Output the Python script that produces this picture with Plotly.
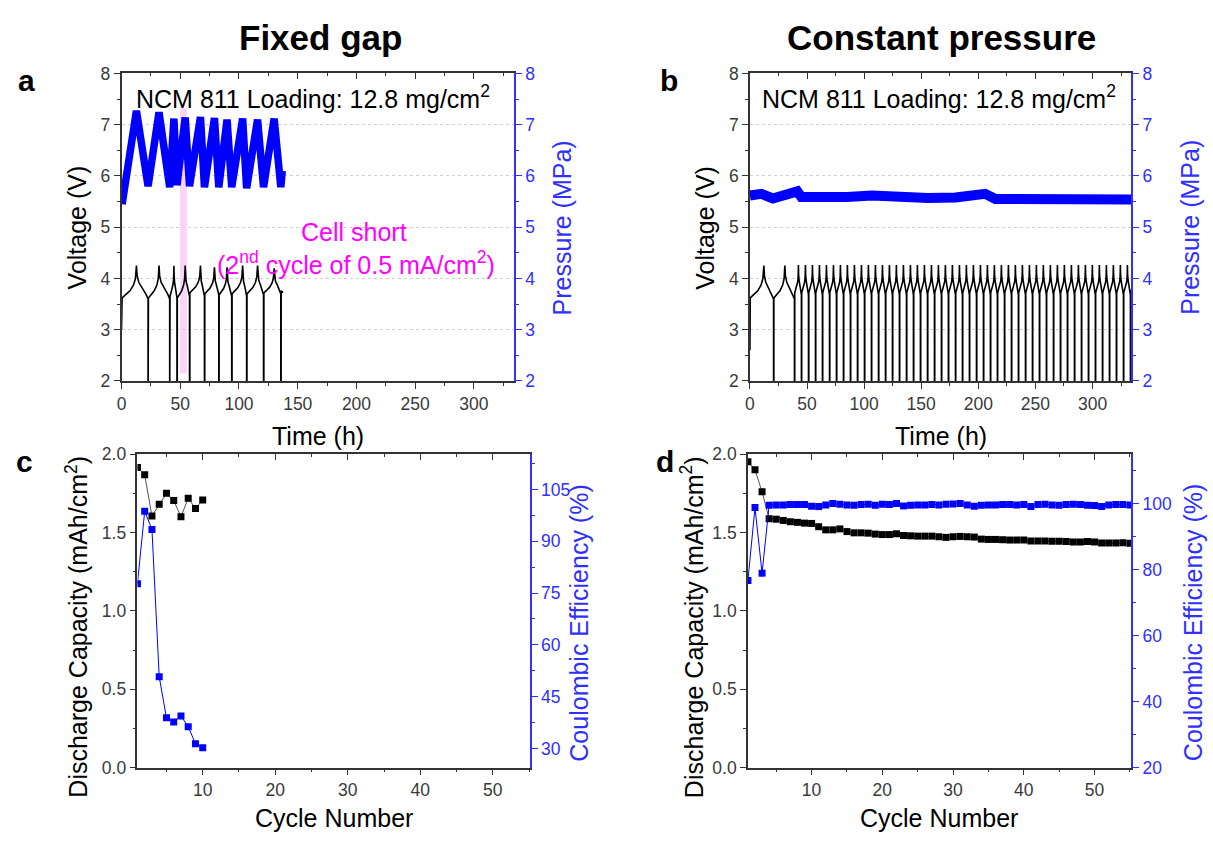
import plotly.graph_objects as go

W, H = 1213, 841
FONT = "Liberation Sans, Arial, sans-serif"
BLACK = "#000000"
AXC = "#333333"
TICKC = "#3a3a3a"
BLUE = "#0000ff"
BLUEAX = "#3030ff"
MAGENTA = "#ff00ff"

# ---------------- Panel a (fixed gap) : voltage cycles ----------------
a_cycle_start = [0.5, 22.9, 41.3, 47.5, 58.2, 70.9, 83.1, 94.1, 106.8, 121.2]
a_cycle_peak = [12.7, 31.9, 44.6, 54.2, 67.2, 79.1, 89.8, 103.1, 115.8, 129.9]
a_cycle_end = [22.6, 41.0, 47.2, 57.9, 70.6, 82.8, 93.8, 106.5, 120.9, 135.6]
a_cycle_vstart = [3.62, 3.62, 3.66, 3.62, 3.72, 3.70, 3.68, 3.70, 3.70, 3.72]
a_cycle_vpeak = [4.25, 4.25, 4.25, 4.25, 4.25, 4.22, 4.22, 4.25, 4.25, 4.20]
a_cycle_vend = [3.60, 3.60, 3.62, 3.65, 3.65, 3.68, 3.65, 3.66, 3.68, 3.70]
a_initial_t = [0.0]
a_initial_v = [3.0]
a_tail_t = [135.9, 137.5]
a_tail_v = [3.76, 3.72]

# pressure (fixed gap)
a_p_t = [0.5, 12.7, 22.6, 31.9, 41.0, 44.6, 47.2, 54.2, 57.9, 67.2, 70.6, 79.1,
         82.8, 89.8, 93.8, 103.1, 106.5, 115.8, 120.9, 129.9, 135.6, 136.8]
a_p_v = [5.45, 7.27, 5.80, 7.24, 5.78, 7.12, 5.82, 7.14, 5.80, 7.15, 5.78, 7.13,
         5.78, 7.10, 5.78, 7.12, 5.76, 7.10, 5.78, 7.12, 5.78, 6.10]

# ---------------- Panel b (constant pressure) ----------------
b_slow_start = [0.3, 21.0]
b_slow_peak = [12.2, 30.6]
b_slow_end = [20.7, 39.0]
b_fast_spikes = [39.0, 45.1, 51.3, 57.4, 63.5, 69.7, 75.8, 81.9, 88.0, 94.2, 100.3,
                 106.4, 112.6, 118.7, 124.8, 130.9, 137.1, 143.2, 149.3, 155.5, 161.6,
                 167.7, 173.8, 180.0, 186.1, 192.2, 198.4, 204.5, 210.6, 216.7, 222.9,
                 229.0, 235.1, 241.3, 247.4, 253.5, 259.6, 265.8, 271.9, 278.0, 284.2,
                 290.3, 296.4, 302.5, 308.7, 314.8, 320.9, 327.1, 333.2]
b_fast_peak_fraction = 0.55
b_fast_v = [3.72, 4.26, 3.68]
b_initial_t = [0.0]
b_initial_v = [2.6]

b_p_t = [0, 10, 20, 29, 36, 41.5, 45, 63, 85, 107, 130, 156, 180, 200, 206, 215, 250, 290, 334]
b_p_v = [5.62, 5.65, 5.56, 5.62, 5.62, 5.70, 5.59, 5.58, 5.59, 5.62, 5.58, 5.57, 5.58,
         5.60, 5.65, 5.55, 5.55, 5.56, 5.54]

# shape of a charge / discharge step (fraction of step time -> fraction of voltage change)
charge_frac_t = [0, 0.25, 0.55, 0.8, 0.93, 1.0]
charge_frac_v = [0, 0.10, 0.22, 0.40, 0.60, 1.0]
discharge_frac_t = [0, 0.06, 0.2, 0.5, 0.85, 1.0]
discharge_frac_v = [1.0, 0.70, 0.50, 0.33, 0.12, 0.0]
SPIKE_V = 1.5

# ---------------- Panel c (fixed gap) cycling ----------------
c_cycle = [1, 2, 3, 4, 5, 6, 7, 8, 9, 10]
c_capacity = [1.915, 1.868, 1.605, 1.680, 1.750, 1.705, 1.600, 1.719, 1.653, 1.708]
c_ce = [77.7, 98.7, 93.4, 50.8, 38.9, 37.7, 39.4, 36.3, 31.4, 30.2]

# ---------------- Panel d (constant pressure) cycling ----------------
d_cycle = list(range(1, 56))
d_capacity = [1.952, 1.900, 1.760, 1.588, 1.585, 1.577, 1.569, 1.565, 1.560, 1.558,
              1.537, 1.517, 1.517, 1.523, 1.506, 1.498, 1.498, 1.496, 1.490, 1.487,
              1.487, 1.492, 1.481, 1.479, 1.477, 1.477, 1.477, 1.473, 1.469, 1.473,
              1.475, 1.473, 1.471, 1.458, 1.456, 1.456, 1.454, 1.452, 1.452, 1.452,
              1.446, 1.446, 1.446, 1.444, 1.444, 1.442, 1.440, 1.440, 1.442, 1.440,
              1.433, 1.433, 1.433, 1.435, 1.431]
d_ce = [76.8, 98.9, 79.0, 99.6, 99.7, 99.7, 99.8, 99.8, 99.8, 99.3,
        99.2, 99.7, 100.1, 99.9, 99.7, 99.6, 99.8, 99.9, 99.6, 99.9,
        99.8, 100.1, 99.4, 99.6, 99.7, 99.7, 99.8, 99.7, 99.9, 100.0,
        100.1, 99.7, 99.3, 99.6, 99.7, 99.7, 99.8, 99.8, 99.7, 99.8,
        99.2, 99.8, 99.9, 99.7, 99.6, 99.8, 99.9, 99.8, 99.6, 99.5,
        99.2, 99.7, 99.8, 99.8, 99.7]


def step(t0, t1, v0, v1, frac_t, frac_v):
    ts, vs = [], []
    for ft, fv in zip(frac_t, frac_v):
        ts.append(t0 + ft * (t1 - t0))
        vs.append(v0 + fv * (v1 - v0))
    return ts, vs


def cycle(t0, tp, t1, v0, vp, v1):
    t_c, v_c = step(t0, tp, v0, vp, charge_frac_t, charge_frac_v)
    t_d, v_d = step(tp, t1, v1, vp, discharge_frac_t, discharge_frac_v)
    t = t_c + t_d[1:] + [t1, t1 + 0.25]
    v = v_c + v_d[1:] + [SPIKE_V, SPIKE_V]
    return t, v


a_t, a_v = list(a_initial_t), list(a_initial_v)
for i in range(len(a_cycle_start)):
    t, v = cycle(a_cycle_start[i], a_cycle_peak[i], a_cycle_end[i],
                 a_cycle_vstart[i], a_cycle_vpeak[i], a_cycle_vend[i])
    a_t += t
    a_v += v
a_t += a_tail_t
a_v += a_tail_v

b_t, b_v = list(b_initial_t), list(b_initial_v)
for i in range(len(b_slow_start)):
    t, v = cycle(b_slow_start[i], b_slow_peak[i], b_slow_end[i], 3.62, 4.25, 3.60)
    b_t += t
    b_v += v
for i in range(len(b_fast_spikes) - 1):
    s0 = b_fast_spikes[i] + 0.25
    s1 = b_fast_spikes[i + 1]
    tp = s0 + b_fast_peak_fraction * (s1 - s0)
    t, v = cycle(s0, tp, s1, b_fast_v[0], b_fast_v[1], b_fast_v[2])
    b_t += t
    b_v += v
b_t += [b_fast_spikes[-1] + 0.25, 334.5]
b_v += [b_fast_v[0], 3.8]

fig = go.Figure()

fig.add_trace(go.Scatter(x=a_t, y=a_v, mode="lines", line=dict(color=BLACK, width=1.6),
                         xaxis="x", yaxis="y", showlegend=False))
fig.add_trace(go.Scatter(x=a_p_t, y=a_p_v, mode="lines", line=dict(color=BLUE, width=7.5),
                         xaxis="x", yaxis="y2", showlegend=False))
fig.add_trace(go.Scatter(x=b_t, y=b_v, mode="lines", line=dict(color=BLACK, width=1.6),
                         xaxis="x2", yaxis="y3", showlegend=False))
fig.add_trace(go.Scatter(x=b_p_t, y=b_p_v, mode="lines", line=dict(color=BLUE, width=10),
                         xaxis="x2", yaxis="y4", showlegend=False))
fig.add_trace(go.Scatter(x=c_cycle, y=c_capacity, mode="lines+markers",
                         line=dict(color="#555555", width=1),
                         marker=dict(symbol="square", size=7, color=BLACK),
                         xaxis="x3", yaxis="y5", showlegend=False))
fig.add_trace(go.Scatter(x=c_cycle, y=c_ce, mode="lines+markers",
                         line=dict(color=BLUE, width=1),
                         marker=dict(symbol="square", size=7, color=BLUE),
                         xaxis="x3", yaxis="y6", showlegend=False))
fig.add_trace(go.Scatter(x=d_cycle, y=d_capacity, mode="lines+markers",
                         line=dict(color="#555555", width=1),
                         marker=dict(symbol="square", size=7, color=BLACK),
                         xaxis="x4", yaxis="y7", showlegend=False))
fig.add_trace(go.Scatter(x=d_cycle, y=d_ce, mode="lines+markers",
                         line=dict(color=BLUE, width=1),
                         marker=dict(symbol="square", size=7, color=BLUE),
                         xaxis="x4", yaxis="y8", showlegend=False))
for xa, ya in [("x5", "y"), ("x6", "y3"), ("x7", "y5"), ("x8", "y7")]:
    fig.add_trace(go.Scatter(x=[None], y=[None], xaxis=xa, yaxis=ya, showlegend=False,
                             hoverinfo="skip"))

dom_a = [117 / W, 511 / W]
dom_b = [748 / W, 1131 / W]
dom_c = [133 / W, 527 / W]
dom_d = [746 / W, 1131 / W]
y_top = [1 - 380 / H, 1 - 65 / H]
y_bot = [1 - 776 / H, 1 - 455 / H]

TS = 17.5
tickfont = dict(family=FONT, size=TS, color=TICKC)
bluefont = dict(family=FONT, size=TS, color=BLUEAX)


def xax(domain, anchor, rng, dtick, minor):
    return dict(domain=domain, anchor=anchor, range=rng, dtick=dtick, tick0=0,
                ticks="outside", ticklen=6, tickwidth=1.3, tickcolor=AXC,
                showline=True, linecolor=AXC, linewidth=1.5, showgrid=False,
                zeroline=False, tickfont=tickfont,
                minor=dict(dtick=minor, tick0=0, ticks="outside", ticklen=3,
                           tickcolor=AXC, tickwidth=1.3, showgrid=False))


def xtop(over, anchor, rng, dtick, minor):
    return dict(overlaying=over, anchor=anchor, side="top", range=rng, dtick=dtick,
                tick0=0, ticks="inside", ticklen=6, tickwidth=1.3, tickcolor=AXC,
                showline=True, linecolor=AXC, linewidth=1.5, showgrid=False,
                zeroline=False, showticklabels=False,
                minor=dict(dtick=minor, tick0=0, ticks="inside", ticklen=3,
                           tickcolor=AXC, tickwidth=1.3, showgrid=False))


def yleft(domain, anchor, rng, dtick, minor, grid, fmt=None):
    d = dict(domain=domain, anchor=anchor, range=rng, dtick=dtick, tick0=0,
             ticks="outside", ticklen=6, tickwidth=1.3, tickcolor=AXC,
             showline=True, linecolor=AXC, linewidth=1.5, zeroline=False,
             tickfont=tickfont, showgrid=grid, gridcolor="#d0d0d0", griddash="dot",
             gridwidth=1,
             minor=dict(dtick=minor, tick0=0, ticks="outside", ticklen=3,
                        tickcolor=AXC, tickwidth=1.3, showgrid=False))
    if fmt:
        d["tickformat"] = fmt
    return d


def yright(over, anchor, rng, dtick, minor):
    return dict(overlaying=over, anchor=anchor, side="right", range=rng, dtick=dtick,
                tick0=0, ticks="outside", ticklen=6, tickwidth=1.3, tickcolor=BLUEAX,
                showline=True, linecolor=BLUEAX, linewidth=1.5, zeroline=False,
                showgrid=False, tickfont=bluefont,
                minor=dict(dtick=minor, tick0=0, ticks="outside", ticklen=3,
                           tickcolor=BLUEAX, tickwidth=1.3, showgrid=False))


fig.update_layout(
    width=W, height=H, margin=dict(l=0, r=0, t=0, b=0),
    paper_bgcolor="white", plot_bgcolor="white",
    font=dict(family=FONT, color=BLACK),
    xaxis=xax(dom_a, "y", [0, 334], 50, 25),
    xaxis2=xax(dom_b, "y3", [0, 334], 50, 25),
    xaxis3=xax(dom_c, "y5", [1, 55.1], 10, 5),
    xaxis4=xax(dom_d, "y7", [1, 55.2], 10, 5),
    xaxis5=xtop("x", "y", [0, 334], 50, 25),
    xaxis6=xtop("x2", "y3", [0, 334], 50, 25),
    xaxis7=xtop("x3", "y5", [1, 55.1], 10, 5),
    xaxis8=xtop("x4", "y7", [1, 55.2], 10, 5),
    yaxis=yleft(y_top, "x", [2, 8], 1, 0.5, True),
    yaxis2=yright("y", "x", [2, 8], 1, 0.5),
    yaxis3=yleft(y_top, "x2", [2, 8], 1, 0.5, True),
    yaxis4=yright("y3", "x2", [2, 8], 1, 0.5),
    yaxis5=yleft(y_bot, "x3", [0, 2], 0.5, 0.25, False, ".1f"),
    yaxis6=yright("y5", "x3", [24.5, 115.2], 15, 7.5),
    yaxis7=yleft(y_bot, "x4", [0, 2], 0.5, 0.25, False, ".1f"),
    yaxis8=yright("y7", "x4", [20, 115.1], 20, 10),
)

fig.add_shape(type="rect", xref="x", yref="y", x0=49.8, x1=55.6, y0=2.15, y1=7.32,
              fillcolor="rgba(246,150,246,0.42)", line=dict(width=0), layer="below")


def ann(text, x, y, size, color=BLACK, bold=False, angle=0):
    fig.add_annotation(text=("<b>%s</b>" % text) if bold else text,
                       x=x / W, y=1 - y / H, xref="paper", yref="paper",
                       showarrow=False, textangle=angle,
                       font=dict(family=FONT, size=size, color=color),
                       xanchor="center", yanchor="middle")


TF = 25
ann("Fixed gap", 317, 28, 35, bold=True)
ann("Constant pressure", 940, 28, 35, bold=True)
ann("a", 22, 72, 30, bold=True)
ann("b", 667, 72, 30, bold=True)
ann("c", 20, 463, 30, bold=True)
ann("d", 663, 463, 30, bold=True)

ann("NCM 811 Loading: 12.8 mg/cm<sup>2</sup>", 309, 89, TF)
ann("NCM 811 Loading: 12.8 mg/cm<sup>2</sup>", 938, 89, TF)
ann("Cell short", 350, 227, TF, color=MAGENTA)
ann("(2<sup>nd</sup> cycle of 0.5 mA/cm<sup>2</sup>)", 352, 259, TF, color=MAGENTA)

ann("Voltage (V)", 72, 223, TF, angle=-90)
ann("Pressure (MPa)", 559, 223, TF, color=BLUEAX, angle=-90)
ann("Time (h)", 314, 436, TF)
ann("Voltage (V)", 703, 223, TF, angle=-90)
ann("Pressure (MPa)", 1190, 223, TF, color=BLUEAX, angle=-90)
ann("Time (h)", 940, 436, TF)

ann("Discharge Capacity (mAh/cm<sup>2</sup>)", 72, 632, TF, angle=-90)
ann("Coulombic Efficiency (%)", 576, 628, TF, color=BLUEAX, angle=-90)
ann("Cycle Number", 330, 828, TF)
ann("Discharge Capacity (mAh/cm<sup>2</sup>)", 690, 632, TF, angle=-90)
ann("Coulombic Efficiency (%)", 1193, 628, TF, color=BLUEAX, angle=-90)
ann("Cycle Number", 938, 828, TF)

fig.write_html("out.html")
